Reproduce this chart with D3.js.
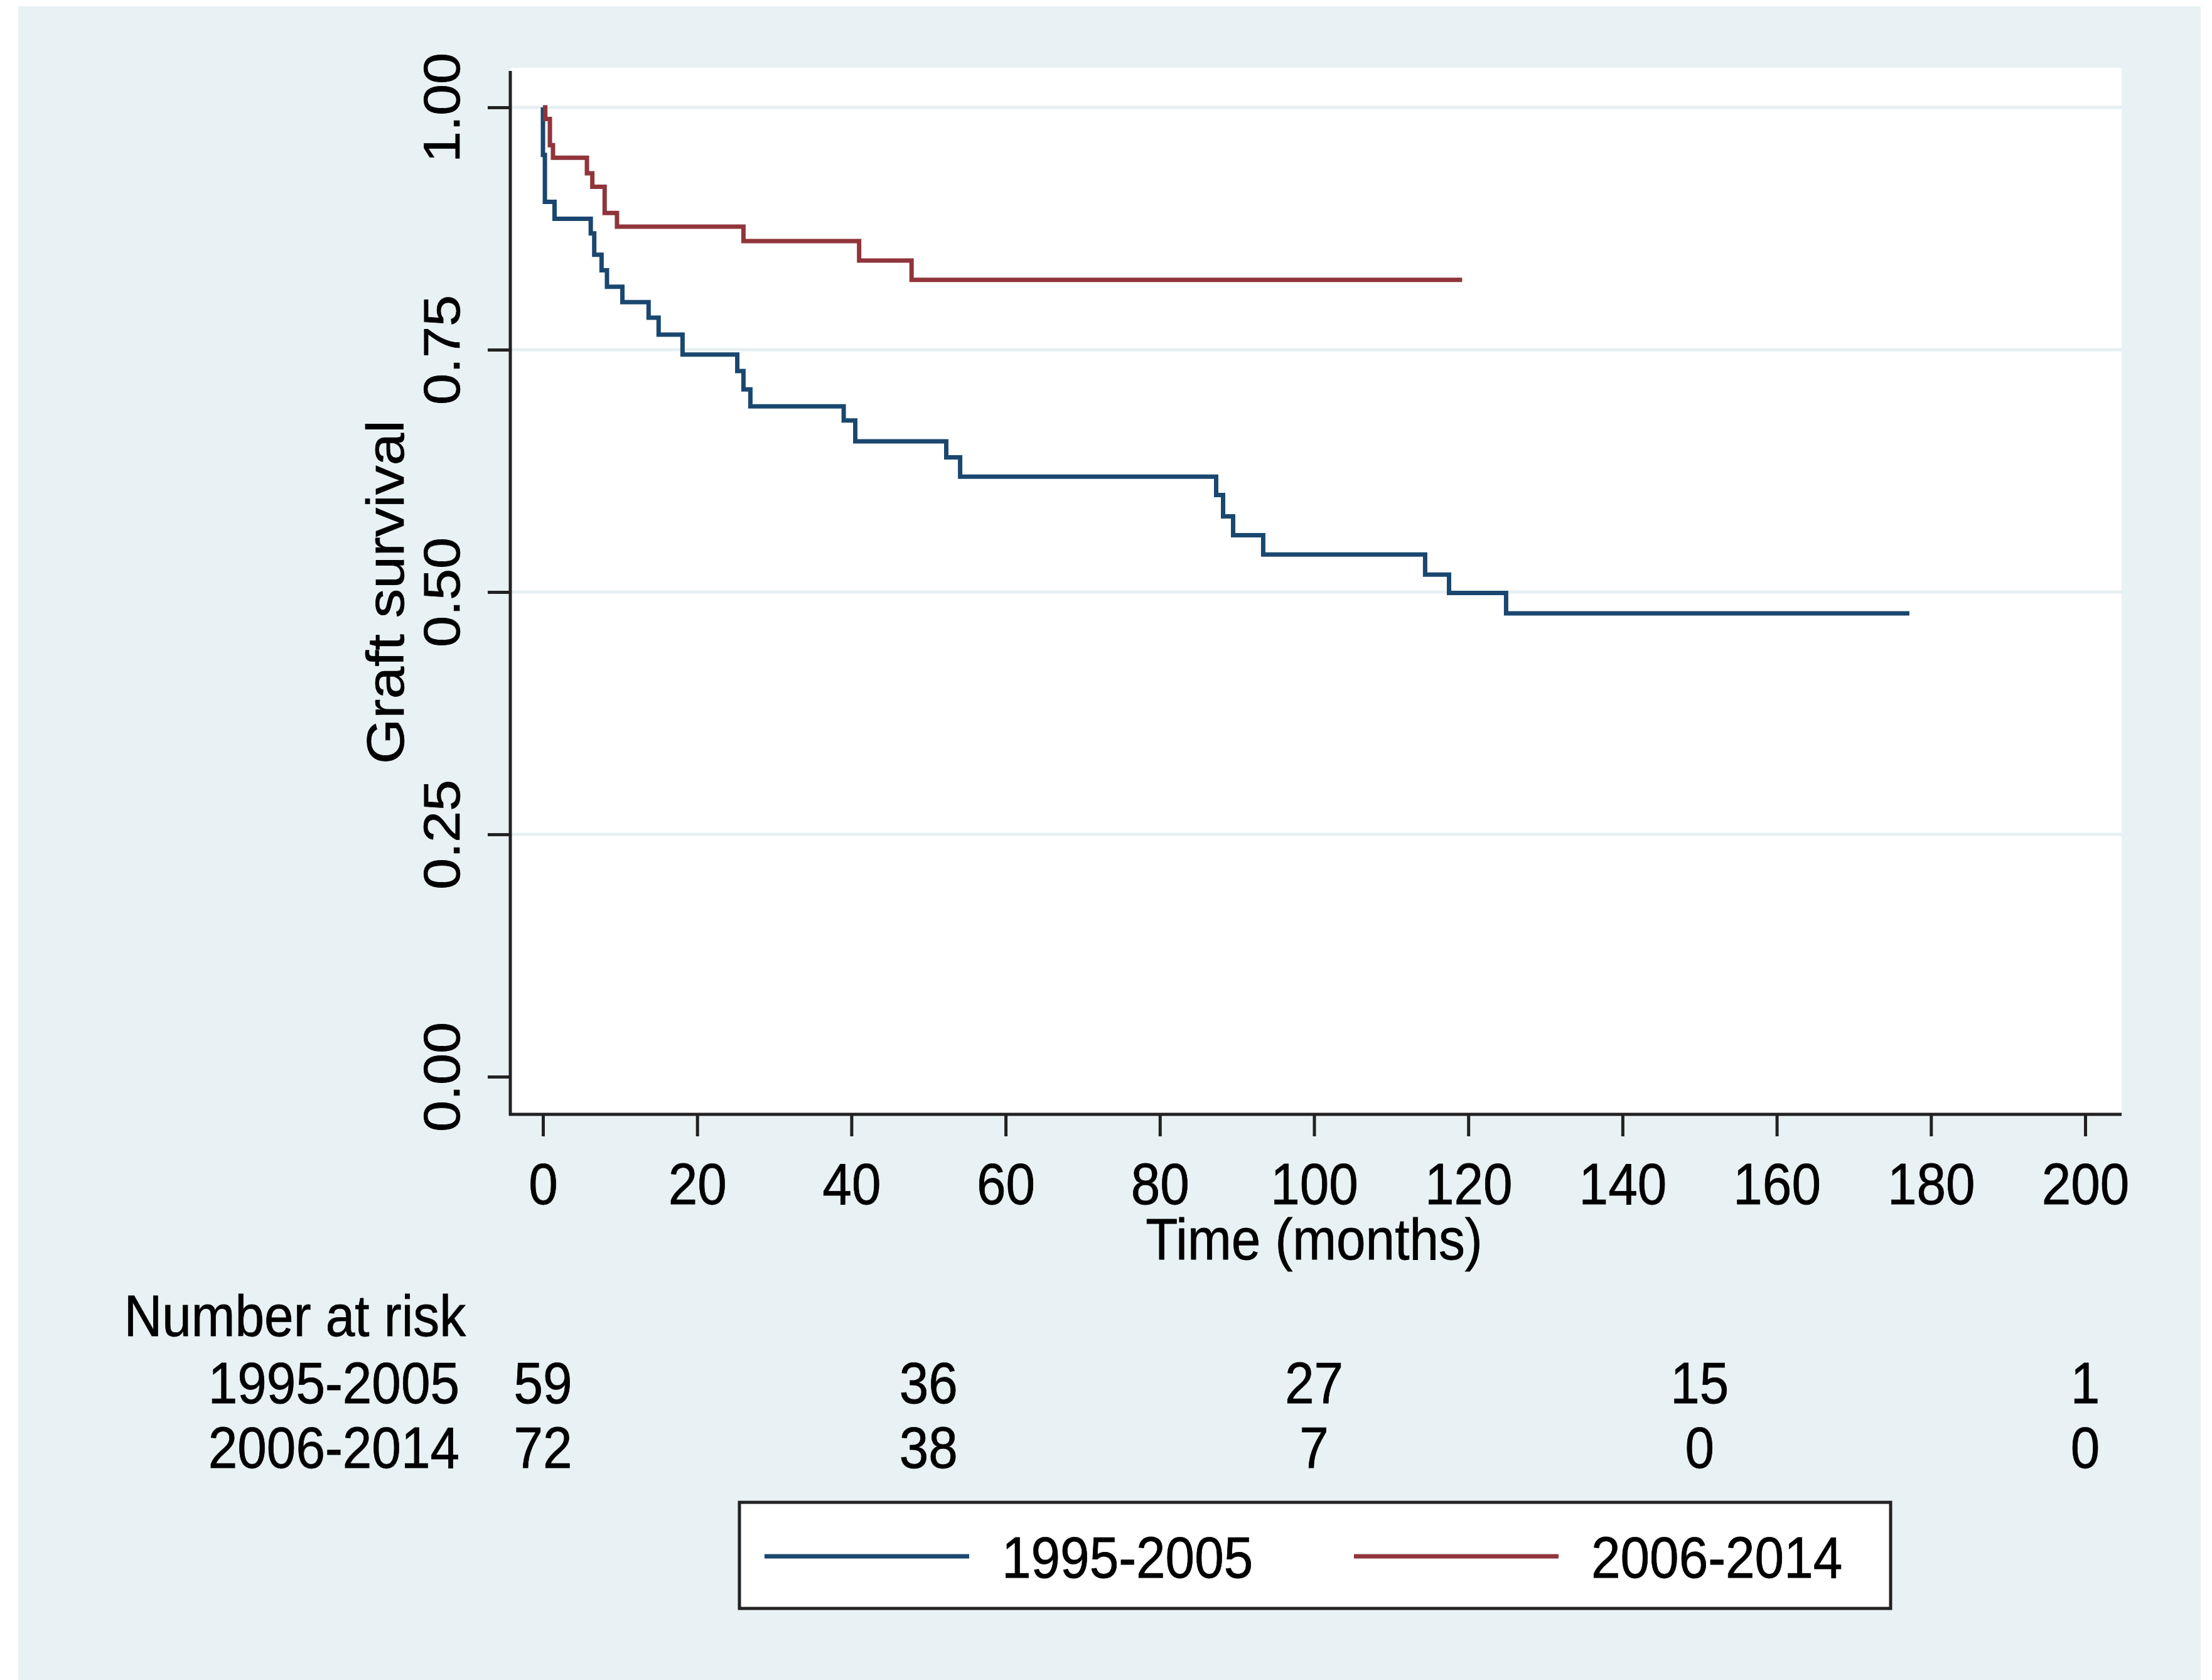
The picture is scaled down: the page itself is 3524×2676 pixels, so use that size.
<!DOCTYPE html>
<html>
<head>
<meta charset="utf-8">
<script src="https://cdn.jsdelivr.net/npm/d3@7"></script>
<style>
  body { margin: 0; background: #ffffff; }
  text { font-family: "Liberation Sans", Arial, sans-serif; fill: #000; stroke: #000; stroke-width: 0.8px; }
</style>
</head>
<body>
<div id="chart"></div>
<script>
// survival curve steps (time in months, survival after the step)
var groups = ["1995-2005", "2006-2014"];

var timeA = [0, 0, 0.25, 1.5, 6.2, 6.65, 7.6, 8.3, 10.3, 13.7, 15.0, 18.1, 25.2, 26.0, 26.9,
             39.0, 40.5, 52.3, 54.1, 87.3, 88.2, 89.5, 93.4, 114.4, 117.5, 124.9, 177.2];
var survA = [1, 0.951, 0.9025, 0.885, 0.870, 0.848, 0.832, 0.815, 0.799, 0.783, 0.7655, 0.745, 0.728, 0.709, 0.6915,
             0.677, 0.6555, 0.639, 0.619, 0.600, 0.578, 0.5586, 0.5387, 0.518, 0.499, 0.478, 0.478];

var timeB = [0, 0.3, 0.9, 1.3, 5.7, 6.4, 8.0, 9.6, 26.0, 41.0, 47.8, 119.2];
var survB = [1, 0.988, 0.961, 0.948, 0.932, 0.918, 0.891, 0.877, 0.862, 0.842, 0.822, 0.822];

var xTicks = [0, 20, 40, 60, 80, 100, 120, 140, 160, 180, 200];
var yTicks = [0, 0.25, 0.5, 0.75, 1];
var yGrid = [0.25, 0.5, 0.75, 1];

// number at risk table
var riskTimes = [0, 50, 100, 150, 200];
var riskA = [59, 36, 27, 15, 1];
var riskB = [72, 38, 7, 0, 0];

var colors = ["#1a476f", "#90353b"];

var svgWidth = 3524;
var svgHeight = 2676;
var fontSize = 93;
var squeeze = "scale(0.9,1)";

var plot = { left: 813, right: 3380, top: 108, bottom: 1776 };

var svg = d3.select("#chart")
  .append("svg")
  .attr("width", svgWidth)
  .attr("height", svgHeight);

// outer graph region
svg.append("rect")
  .attr("x", 29).attr("y", 10)
  .attr("width", 3506 - 29).attr("height", svgHeight - 10)
  .attr("fill", "#e8f1f3");

// plot region
svg.append("rect")
  .attr("x", plot.left).attr("y", plot.top)
  .attr("width", plot.right - plot.left).attr("height", plot.bottom - plot.top)
  .attr("fill", "#ffffff");

var xScale = d3.scaleLinear().domain([0, 200]).range([865, 3322]);
var yScale = d3.scaleLinear().domain([0, 1]).range([1715, 171]);

// grid lines
svg.append("g").selectAll("line")
  .data(yGrid)
  .enter()
  .append("line")
  .attr("x1", plot.left).attr("x2", plot.right)
  .attr("y1", d => yScale(d)).attr("y2", d => yScale(d))
  .attr("stroke", "#e6eff1")
  .attr("stroke-width", 5);

// curves
var line = d3.line()
  .x(d => xScale(d[0]))
  .y(d => yScale(d[1]))
  .curve(d3.curveStepAfter);

var series = [d3.zip(timeA, survA), d3.zip(timeB, survB)];

svg.append("g").selectAll("path")
  .data(series)
  .enter()
  .append("path")
  .attr("d", line)
  .attr("fill", "none")
  .attr("stroke", (d, i) => colors[i])
  .attr("stroke-width", 7)
  .attr("stroke-linejoin", "miter");

// axes
var xAxis = d3.axisBottom(xScale)
  .tickValues(xTicks)
  .tickSize(35)
  .tickSizeOuter(0);

var xAxisG = svg.append("g")
  .attr("transform", "translate(0," + 1775 + ")")
  .call(xAxis);
xAxisG.select(".domain").remove();
xAxisG.selectAll("line").attr("stroke", "#222").attr("stroke-width", 5);
xAxisG.selectAll("text")
  .attr("y", 143).attr("dy", null)
  .attr("transform", squeeze)
  .style("font-size", fontSize + "px");

var yAxis = d3.axisLeft(yScale)
  .tickValues(yTicks)
  .tickFormat(d3.format(".2f"))
  .tickSize(36)
  .tickSizeOuter(0);

var yAxisG = svg.append("g")
  .attr("transform", "translate(" + plot.left + ",0)")
  .call(yAxis);
yAxisG.select(".domain").remove();
yAxisG.selectAll("line").attr("stroke", "#222").attr("stroke-width", 5);
yAxisG.selectAll("text")
  .attr("x", 0).attr("y", 0).attr("dy", null)
  .attr("text-anchor", "middle")
  .attr("transform", "translate(-81,0) " + squeeze + " rotate(-90)")
  .style("font-size", "90px");

// axis lines
svg.append("line")
  .attr("x1", plot.left).attr("x2", plot.left)
  .attr("y1", 113).attr("y2", 1777)
  .attr("stroke", "#222").attr("stroke-width", 5);
svg.append("line")
  .attr("x1", plot.left - 2).attr("x2", plot.right)
  .attr("y1", 1775).attr("y2", 1775)
  .attr("stroke", "#222").attr("stroke-width", 5);

function label(x, y, str, anchor, rotate) {
  return svg.append("text")
    .attr("transform", "translate(" + x + "," + y + ") " + squeeze + (rotate ? " rotate(-90)" : ""))
    .attr("text-anchor", anchor)
    .style("font-size", fontSize + "px")
    .text(str);
}

// axis titles
label((xScale.range()[0] + xScale.range()[1]) / 2, 2006, "Time (months)", "middle");
label(643, (yScale.range()[0] + yScale.range()[1]) / 2, "Graft survival", "middle", true);

// number at risk
label(742, 2128, "Number at risk", "end");
var riskRows = [riskA, riskB];
var rowY = [2235, 2338];
riskRows.forEach(function(row, r) {
  label(732, rowY[r], groups[r], "end");
  svg.append("g").selectAll("text")
    .data(row)
    .enter()
    .append("text")
    .attr("transform", (d, i) => "translate(" + xScale(riskTimes[i]) + "," + rowY[r] + ") " + squeeze)
    .attr("text-anchor", "middle")
    .style("font-size", fontSize + "px")
    .text(d => d);
});

// legend
var legend = svg.append("g");
legend.append("rect")
  .attr("x", 1178).attr("y", 2393)
  .attr("width", 3012 - 1178).attr("height", 2562 - 2393)
  .attr("fill", "#ffffff")
  .attr("stroke", "#222")
  .attr("stroke-width", 5);

var legendX = [1218, 2157];
groups.forEach(function(g, i) {
  legend.append("line")
    .attr("x1", legendX[i]).attr("x2", legendX[i] + 326)
    .attr("y1", 2479).attr("y2", 2479)
    .attr("stroke", colors[i])
    .attr("stroke-width", 7);
  label(legendX[i] + 378, 2513, g, "start");
});
</script>
</body>
</html>
